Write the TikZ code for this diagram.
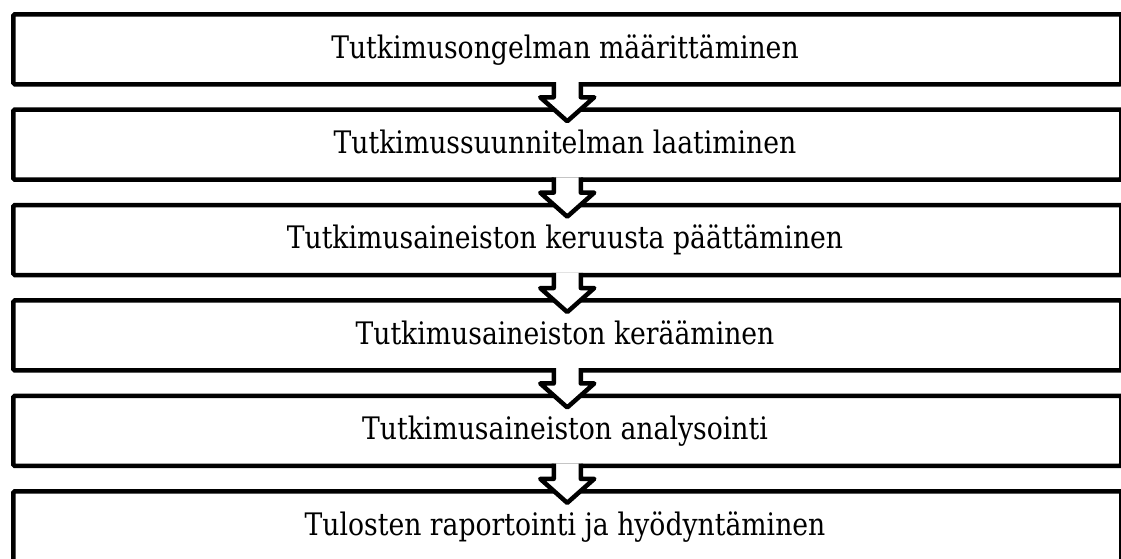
\documentclass[tikz,border=0pt]{standalone}
\usepackage{fontspec}
\setmainfont{DejaVu Serif}[FakeStretch=0.86]
\begin{document}
\begin{tikzpicture}[x=1pt,y=-1pt,
  stagebox/.style={draw=black,line width=4.5pt,rounded corners=1.5pt,minimum width=1108pt,minimum height=70pt,inner sep=0pt,anchor=north west},
  stagetext/.style={font=\fontsize{31}{36}\selectfont,anchor=base,inner sep=0pt},
  arrowline/.style={draw=black,line width=4.5pt,line join=round},
  arrowfill/.style={fill=white,draw=none}]
\useasboundingbox (0,0) rectangle (1121,558);
\foreach \i/\t in {0/Tutkimusongelman määrittäminen,1/Tutkimussuunnitelman laatiminen,2/Tutkimusaineiston keruusta päättäminen,3/Tutkimusaineiston kerääminen,4/Tutkimusaineiston analysointi,5/Tulosten raportointi ja hyödyntäminen}{
  \pgfmathsetmacro{\top}{12+95.4*\i}
  \node[stagebox] (b\i) at (11,\top) {};
  \node[stagetext] (t\i) at (565,\top+46) {\t};
}
\foreach \i in {0,...,4}{
  \path (b\i.south) ++(0,-2.25) coordinate (s\i);
  \path[arrowfill] ([xshift=-13.5pt,yshift=2.3pt]s\i) -- ([xshift=-13.5pt,yshift=-13pt]s\i) -- ([xshift=-27pt,yshift=-13pt]s\i) -- ([yshift=-37pt]s\i) -- ([xshift=27pt,yshift=-13pt]s\i) -- ([xshift=13.5pt,yshift=-13pt]s\i) -- ([xshift=13.5pt,yshift=2.3pt]s\i) -- cycle;
  \draw[arrowline] ([xshift=-13.5pt,yshift=2.25pt]s\i) -- ([xshift=-13.5pt,yshift=-13pt]s\i) -- ([xshift=-27pt,yshift=-13pt]s\i) -- ([yshift=-37pt]s\i) -- ([xshift=27pt,yshift=-13pt]s\i) -- ([xshift=13.5pt,yshift=-13pt]s\i) -- ([xshift=13.5pt,yshift=2.25pt]s\i);
}
\end{tikzpicture}
\end{document}
